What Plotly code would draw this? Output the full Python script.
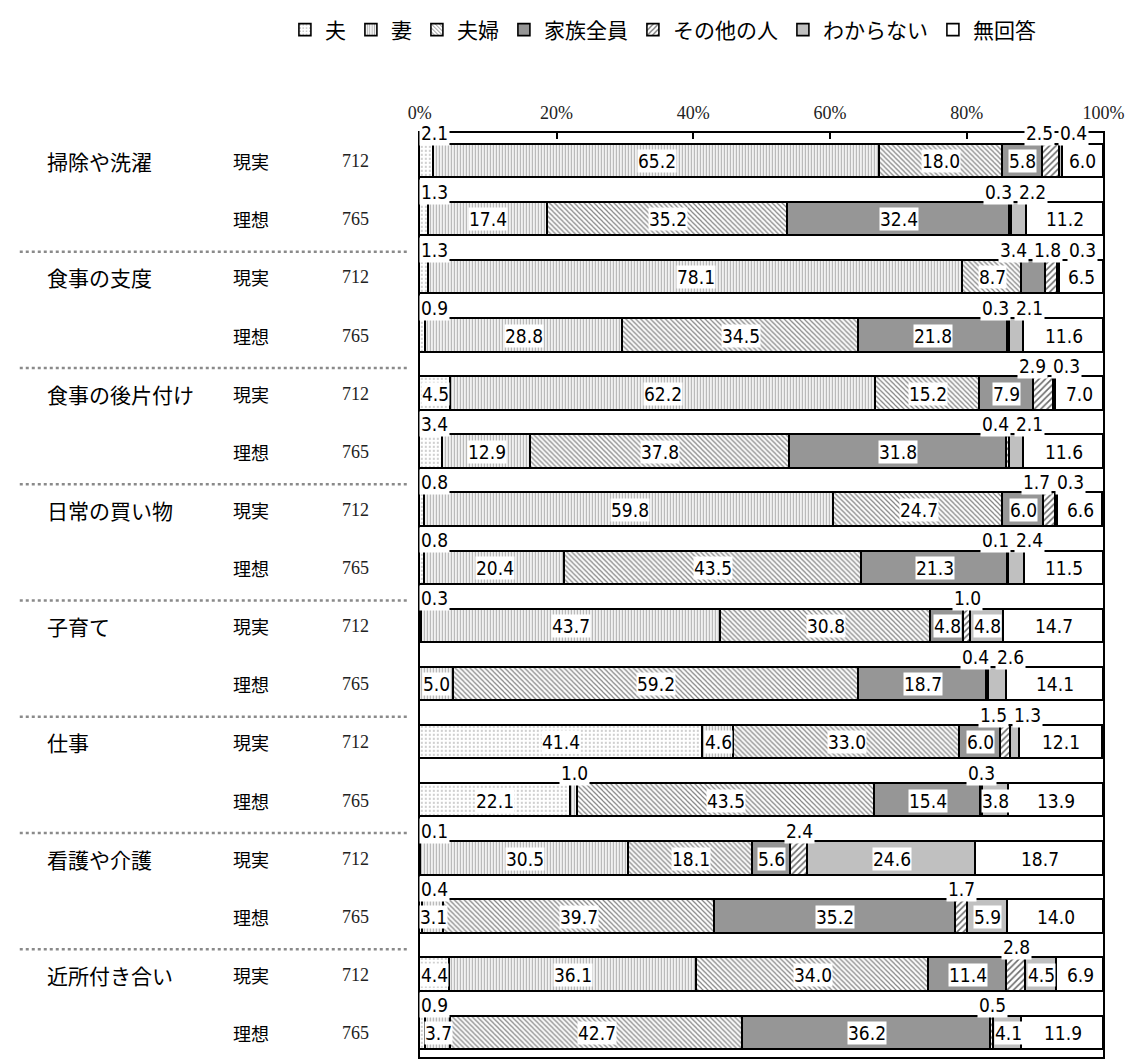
import plotly.graph_objects as go

# ---- data -------------------------------------------------------------
CATEGORIES = ["掃除や洗濯", "食事の支度", "食事の後片付け", "日常の買い物",
              "子育て", "仕事", "看護や介護", "近所付き合い"]
KINDS = ["現実", "理想"]
N_BY_KIND = {"現実": 712, "理想": 765}
SERIES = ["夫", "妻", "夫婦", "家族全員", "その他の人", "わからない", "無回答"]

# rows: each category as 現実 then 理想 (percent)
husband   = [2.1, 1.3, 1.3, 0.9, 4.5, 3.4, 0.8, 0.8, 0.3, 0.0, 41.4, 22.1, 0.1, 0.4, 4.4, 0.9]
wife      = [65.2, 17.4, 78.1, 28.8, 62.2, 12.9, 59.8, 20.4, 43.7, 5.0, 4.6, 1.0, 30.5, 3.1, 36.1, 3.7]
couple    = [18.0, 35.2, 8.7, 34.5, 15.2, 37.8, 24.7, 43.5, 30.8, 59.2, 33.0, 43.5, 18.1, 39.7, 34.0, 42.7]
family    = [5.8, 32.4, 3.4, 21.8, 7.9, 31.8, 6.0, 21.3, 4.8, 18.7, 6.0, 15.4, 5.6, 35.2, 11.4, 36.2]
others    = [2.5, 0.3, 1.8, 0.3, 2.9, 0.4, 1.7, 0.1, 1.0, 0.4, 1.5, 0.3, 2.4, 1.7, 2.8, 0.5]
unknown   = [0.4, 2.2, 0.3, 2.1, 0.3, 2.1, 0.3, 2.4, 4.8, 2.6, 1.3, 3.8, 24.6, 5.9, 4.5, 4.1]
no_answer = [6.0, 11.2, 6.5, 11.6, 7.0, 11.6, 6.6, 11.5, 14.7, 14.1, 12.1, 13.9, 18.7, 14.0, 6.9, 11.9]

VALUES = [husband, wife, couple, family, others, unknown, no_answer]
X_TICKS = [0, 20, 40, 60, 80, 100]

# ---- styling ----------------------------------------------------------
W, H = 1140, 1059
JP = "Noto Sans CJK JP"
SERIF = "Liberation Serif, DejaVu Serif, serif"
NARROW = "Liberation Sans Narrow, DejaVu Sans Condensed, Liberation Sans, Arial, sans-serif"

PLOT_L, PLOT_R = 420, 1124          # pixel span of 0%..100%
PLOT_TOP = 133                       # top frame line
FIRST_Y, PITCH, BAR_H = 161.5, 58.23, 33.5

SMALL = 3.0                          # segments below this get their label above the bar
ABOVE_EXTRA = {(2, 3), (5, 0)}       # (row, series) also labelled above the bar
ABOVE_GAP = 5.0                      # minimum spacing (in %) between labels above a bar

FILLS = [
    dict(shape=".", fgcolor="#a0a0a0", bgcolor="white", size=4, solidity=0.15),
    dict(shape="|", fgcolor="#b0b0b0", bgcolor="white", size=3, solidity=0.45),
    dict(shape="\\", fgcolor="#858585", bgcolor="white", size=3.5, solidity=0.35),
    None,
    dict(shape="/", fgcolor="#6a6a6a", bgcolor="white", size=4.5, solidity=0.35),
    None,
    None,
]
SOLID = ["white", "white", "white", "#969696", "white", "#c0c0c0", "white"]

n_rows = len(husband)
row_y = [FIRST_Y + i * PITCH for i in range(n_rows)]

fig = go.Figure()
for s, name in enumerate(SERIES):
    marker = dict(color=SOLID[s], line=dict(color="black", width=1.6))
    if FILLS[s] is not None:
        marker["pattern"] = dict(fillmode="replace", **FILLS[s])
    fig.add_trace(go.Bar(
        name=name, orientation="h", x=VALUES[s], y=row_y, width=BAR_H,
        marker=marker, hoverinfo="skip",
    ))

annotations = []


def px(x_pix):
    return x_pix / W


def spread(centers, gap, lo, hi):
    xs = list(centers)
    for _ in range(300):
        moved = False
        for k in range(len(xs) - 1):
            d = xs[k + 1] - xs[k]
            if d < gap - 1e-9:
                push = (gap - d) / 2
                xs[k] -= push
                xs[k + 1] += push
                moved = True
        clamped = [min(max(x, lo), hi) for x in xs]
        if clamped != xs:
            moved = True
        xs = clamped
        if not moved:
            break
    return xs


# value labels
for r in range(n_rows):
    left = 0.0
    above = []
    for s in range(len(SERIES)):
        v = VALUES[s][r]
        mid = left + v / 2
        left += v
        if v <= 0:
            continue
        if v < SMALL or (r, s) in ABOVE_EXTRA:
            above.append((mid, v))
        else:
            annotations.append(dict(
                x=mid, y=row_y[r], xref="x", yref="y", text=f"{v:.1f}",
                showarrow=False, bgcolor="white", borderpad=0,
                font=dict(family=NARROW, size=19, color="black"),
            ))
    if above:
        xs = spread([a[0] for a in above], ABOVE_GAP, 2.2, 97.8)
        for (mid, v), xa in zip(above, xs):
            annotations.append(dict(
                x=xa, y=row_y[r] - BAR_H / 2 - 11, xref="x", yref="y",
                text=f"{v:.1f}", showarrow=False, bgcolor="white", borderpad=1,
                font=dict(family=NARROW, size=19, color="black"),
            ))

# row captions
for c, cat in enumerate(CATEGORIES):
    annotations.append(dict(
        x=px(34), y=row_y[2 * c], xref="paper", yref="y", text=cat,
        xanchor="left", showarrow=False, font=dict(family=JP, size=21, color="black"),
    ))
    for k, kind in enumerate(KINDS):
        r = 2 * c + k
        annotations.append(dict(
            x=px(226), y=row_y[r], xref="paper", yref="y", text=kind,
            xanchor="left", showarrow=False, font=dict(family=JP, size=18, color="black"),
        ))
        annotations.append(dict(
            x=px(370), y=row_y[r], xref="paper", yref="y", text=str(N_BY_KIND[kind]),
            xanchor="right", showarrow=False, font=dict(family=SERIF, size=18, color="#222"),
        ))

annotations.append(dict(
    x=px(329), y=124, xref="paper", yref="y", text="N =", showarrow=False,
    font=dict(family=SERIF, size=17, color="#222"),
))

# dotted separators between categories
shapes = []
for c in range(len(CATEGORIES) - 1):
    y = row_y[2 * c + 2] - BAR_H / 2 - 9
    shapes.append(dict(
        type="line", xref="paper", yref="y", x0=px(8), x1=px(408), y0=y, y1=y,
        line=dict(color="#8a8a8a", width=2.4, dash="dot"),
    ))

fig.update_layout(
    width=W, height=H, barmode="stack", bargap=0,
    margin=dict(l=0, r=0, t=0, b=0),
    paper_bgcolor="white", plot_bgcolor="white",
    annotations=annotations, shapes=shapes,
    hovermode=False,
    legend=dict(
        orientation="h", x=0.588, xanchor="center", y=1 - 30 / H, yanchor="middle",
        font=dict(family=JP, size=21, color="black"), traceorder="normal",
        itemwidth=30, bgcolor="rgba(0,0,0,0)",
    ),
    xaxis=dict(
        domain=[PLOT_L / W, PLOT_R / W], range=[0, 100], side="top",
        tickvals=X_TICKS, ticktext=[f"{t}%" for t in X_TICKS],
        ticks="inside", ticklen=6, tickwidth=1.5, tickcolor="black",
        showline=True, linecolor="black", linewidth=2, mirror=True,
        showgrid=False, zeroline=False, ticklabelstandoff=5,
        ticklabeloverflow="allow",
        tickfont=dict(family=SERIF, size=18, color="#222"),
    ),
    yaxis=dict(
        domain=[0, 1 - PLOT_TOP / H], range=[H, PLOT_TOP],
        showline=True, linecolor="black", linewidth=2, mirror=True,
        showticklabels=False, ticks="", showgrid=False, zeroline=False,
    ),
)

fig.write_html("out.html")
